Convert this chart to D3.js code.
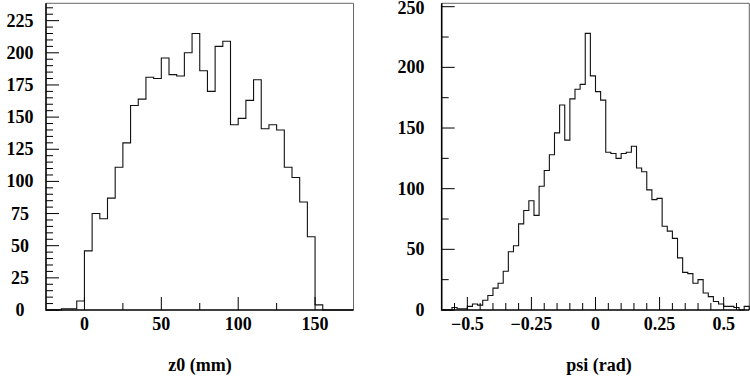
<!DOCTYPE html>
<html><head><meta charset="utf-8">
<script src="https://cdn.jsdelivr.net/npm/d3@7"></script>
<style>body{margin:0;background:#fff}svg{display:block}</style>
</head><body><svg id="c" width="750" height="379" font-family="'Liberation Serif', 'DejaVu Serif', serif" font-weight="bold" font-size="18"></svg>
<script>
// Left histogram: z0 (mm), 5 mm bins from -25 to 175
const z0Counts = [0,0,1,1,7, 46,75,71,87,111, 130,159,164,181,180, 196,183,182,200,215,
  186,170,205,209,144, 149,163,179,141,144, 140,111,103,84,57, 4,0,0,0,0];
const z0Range = [-25, 175];
const z0BinWidth = 5;
const z0YMax = 238.5;
const z0XTickLabels = [0, 50, 100, 150];
const z0XMinorTicks = [25, 75, 125];
const z0YTickLabels = [0, 25, 50, 75, 100, 125, 150, 175, 200, 225];
const z0Title = "z0 (mm)";

// Right histogram: psi (rad), 0.02 rad bins from -0.6 to 0.6
const psiCounts = [0,0,2,1,1,3,5,4,8,12, 18,22,32,48,53,71,82,90,78,102,
  115,128,146,169,140,174,182,186,228,193, 180,173,130,129,125,129,130,135,117,114,
  99,91,92,69,65,59,43,31,30,22, 25,14,11,7,5,3,3,2,0,3];
const psiRange = [-0.6, 0.6];
const psiBinWidth = 0.02;
const psiYMax = 252.8;
const psiXTickLabels = [-0.5, -0.25, 0, 0.25, 0.5];
const psiYTickLabels = [0, 50, 100, 150, 200, 250];
const psiYMinorTicks = [25, 75, 125, 175, 225];
const psiTitle = "psi (rad)";

const svg = d3.select("#c");
const plotTop = 3.3, plotBottom = 310;

function stepPath(counts, lo, w, x, y) {
  let pts = [[x(lo), y(0)]];
  counts.forEach((c, i) => {
    const a = lo + i * w, b = lo + (i + 1) * w;
    pts.push([x(a), y(c)]);
    pts.push([x(b), y(c)]);
  });
  pts.push([x(lo + counts.length * w), y(0)]);
  return d3.line()(pts);
}

function panel(opt) {
  const x = d3.scaleLinear().domain(opt.xd).range(opt.xr);
  const y = d3.scaleLinear().domain([0, opt.ymax]).range([plotBottom, plotTop]);
  const g = svg.append("g");
  g.append("path").attr("d", `M${opt.xr[0]},${plotTop}H${opt.xr[1]}V${plotBottom}`)
    .attr("fill", "none").attr("stroke", "#666").attr("stroke-width", 1);
  g.append("path").attr("d", stepPath(opt.counts, opt.xd[0], opt.bw, x, y))
    .attr("fill", "none").attr("stroke", "#111").attr("stroke-width", 1.1);
  g.selectAll(".ymaj").data(opt.yMaj).join("line")
    .attr("x1", opt.xr[0]).attr("x2", opt.xr[0] + 13)
    .attr("y1", d => y(d)).attr("y2", d => y(d)).attr("stroke", "#000").attr("stroke-width", 1);
  g.selectAll(".ymin").data(opt.yMin).join("line")
    .attr("x1", opt.xr[0]).attr("x2", opt.xr[0] + 7)
    .attr("y1", d => y(d)).attr("y2", d => y(d)).attr("stroke", "#000").attr("stroke-width", 1);
  g.selectAll(".xmaj").data(opt.xMaj).join("line")
    .attr("x1", d => x(d)).attr("x2", d => x(d))
    .attr("y1", plotBottom).attr("y2", plotBottom - 13).attr("stroke", "#000").attr("stroke-width", 1);
  g.selectAll(".xmin").data(opt.xMin).join("line")
    .attr("x1", d => x(d)).attr("x2", d => x(d))
    .attr("y1", plotBottom).attr("y2", plotBottom - 7).attr("stroke", "#000").attr("stroke-width", 1);
  g.append("path").attr("d", `M${opt.xr[0]},${plotTop}V${plotBottom}H${opt.xr[1]}`)
    .attr("fill", "none").attr("stroke", "#000").attr("stroke-width", 1.6);
  g.selectAll(".yl").data(opt.yLab).join("text")
    .attr("x", opt.yLabX).attr("y", d => Math.max(y(d) + 6, 14))
    .attr("text-anchor", opt.yAnchor).text(d => d);
  g.selectAll(".xl").data(opt.xLab).join("text")
    .attr("x", d => x(d)).attr("y", 330)
    .attr("text-anchor", "middle").text(d => d3.format("")(d));
  g.append("text").attr("x", opt.titleX).attr("y", 371)
    .attr("text-anchor", "middle").text(opt.title);
}

panel({
  counts: z0Counts, xd: z0Range, xr: [46, 353.5], bw: z0BinWidth, ymax: z0YMax,
  yMaj: z0YTickLabels, yMin: d3.range(5, 236, 5).filter(v => v % 25 !== 0),
  xMaj: z0XTickLabels, xMin: z0XMinorTicks,
  yLab: z0YTickLabels, yLabX: 20, yAnchor: "middle",
  xLab: z0XTickLabels, title: z0Title, titleX: 200
});
panel({
  counts: psiCounts, xd: psiRange, xr: [441.7, 749.3], bw: psiBinWidth, ymax: psiYMax,
  yMaj: psiYTickLabels, yMin: psiYMinorTicks,
  xMaj: psiXTickLabels, xMin: d3.range(-11, 12).map(k => k * 0.05).filter(v => Math.abs(Math.round(v * 100) % 25) !== 0),
  yLab: psiYTickLabels, yLabX: 424.5, yAnchor: "end",
  xLab: psiXTickLabels, title: psiTitle, titleX: 599
});
</script></body></html>
